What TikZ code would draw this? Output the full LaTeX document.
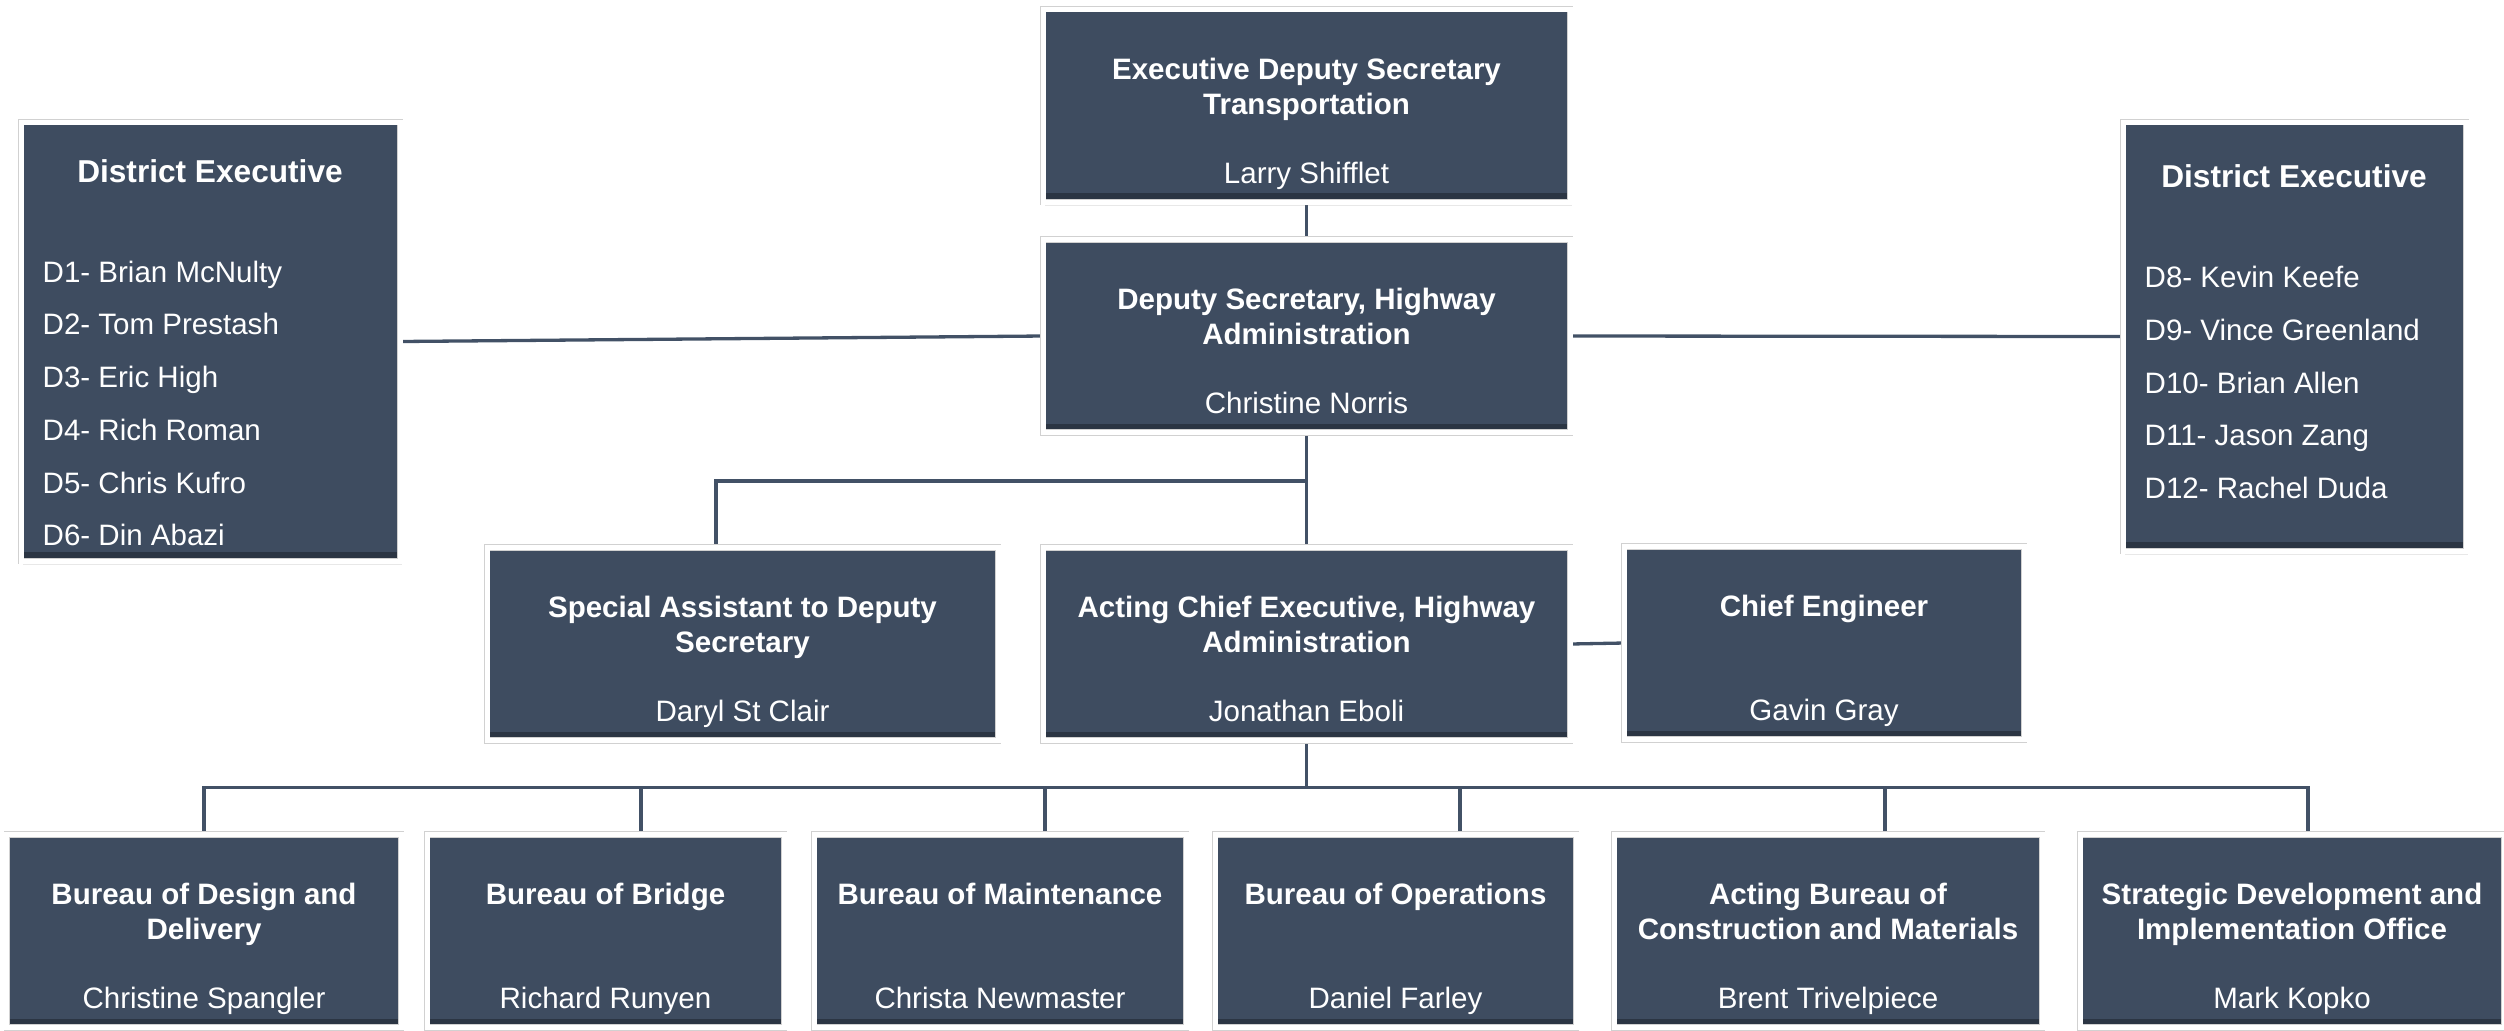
\documentclass[tikz,border=0pt]{standalone}
\usepackage{fontspec}
\setmainfont{Liberation Sans}
\usetikzlibrary{shadows,backgrounds}
\definecolor{slate}{RGB}{62,76,96}
\definecolor{wire}{RGB}{66,81,102}

\begin{document}
\begin{tikzpicture}[
    unit/.style={rectangle,fill=slate,draw=black!18,double=white,double distance=0.05cm,line width=0.2pt,
      minimum height=1.93cm,inner sep=0pt,
      drop shadow={opacity=0.18,shadow xshift=0.015cm,shadow yshift=-0.035cm},
      path picture={\fill[black,opacity=0.3] ([yshift=0.09cm]path picture bounding box.south west) rectangle (path picture bounding box.south east);}},
    ttl/.style={font=\fontsize{8.4}{10}\selectfont\bfseries,text=white,align=center,anchor=north,inner sep=0pt},
    who/.style={font=\fontsize{8.4}{10}\selectfont,text=white,anchor=base,inner sep=0pt},
    list/.style={font=\fontsize{8.4}{15}\selectfont,text=white,align=left,anchor=west,inner sep=0pt},
    wire/.style={draw=wire,line width=0.033cm}]

  \useasboundingbox (0,0) rectangle (25.04,-10.30);

  \foreach \nm/\x/\y/\w/\t/\p in {
      exec/13.065/-1.055/5.27/{Executive Deputy Secretary\\Transportation}/Larry Shifflet,
      dep/13.065/-3.36/5.27/{Deputy Secretary, Highway\\Administration}/Christine Norris,
      spec/7.425/-6.44/5.11/{Special Assistant to Deputy\\Secretary}/Daryl St Clair,
      acting/13.065/-6.44/5.27/{Acting Chief Executive, Highway\\Administration}/Jonathan Eboli,
      chief/18.24/-6.43/4.00/{Chief Engineer}/Gavin Gray,
      b1/2.04/-9.31/3.94/{Bureau of Design and\\Delivery}/Christine Spangler,
      b2/6.055/-9.31/3.57/{Bureau of Bridge}/Richard Runyen,
      b3/10.00/-9.31/3.72/{Bureau of Maintenance}/Christa Newmaster,
      b4/13.955/-9.31/3.61/{Bureau of Operations}/Daniel Farley,
      b5/18.28/-9.31/4.28/{Acting Bureau of\\Construction and Materials}/Brent Trivelpiece,
      b6/22.92/-9.31/4.24/{Strategic Development and\\Implementation Office}/Mark Kopko}{
    \node[unit,minimum width=\w cm] (\nm) at (\x,\y) {};
    \node[ttl] (\nm-t) at ([yshift=-0.485cm]\nm.north) {\t};
    \node[who] (\nm-p) at ([yshift=0.19cm]\nm.south) {\p};
  }

  \node[unit,minimum width=3.79cm,minimum height=4.39cm] (distL) at (2.105,-3.415) {};
  \node[ttl,font=\fontsize{9}{11}\selectfont\bfseries,anchor=center] (distL-t) at (2.10,-1.71) {District Executive};
  \node[list] (distL-l) at (0.42,-4.035) {D1- Brian McNulty\\D2- Tom Prestash\\D3- Eric High\\D4- Rich Roman\\D5- Chris Kufro\\D6- Din Abazi};

  \node[unit,minimum width=3.43cm,minimum height=4.29cm] (distR) at (22.945,-3.365) {};
  \node[ttl,font=\fontsize{9}{11}\selectfont\bfseries,anchor=center] (distR-t) at (22.94,-1.76) {District Executive};
  \node[list] (distR-l) at (21.44,-3.825) {D8- Kevin Keefe\\D9- Vince Greenland\\D10- Brian Allen\\D11- Jason Zang\\D12- Rachel Duda};

  \begin{scope}[on background layer]
    \draw[wire] (exec) -- (dep);
    \draw[wire] (distL.east) -- (dep.west);
    \draw[wire] (dep.east) -- (distR.west);
    \draw[wire] (dep) -- (acting);
    \draw[wire] ([xshift=-0.265cm]spec.north) |- ([yshift=-0.48cm]dep.south);
    \draw[wire] (acting.east) -- (chief.west);
    \foreach \b/\dx in {b1/0,b2/0.355,b3/0.45,b4/0.645,b5/0.57,b6/0.16}
      \draw[wire] ([xshift=\dx cm]\b.north) -- ++(0,0.47) -| (acting.south);
  \end{scope}
\end{tikzpicture}
\end{document}
